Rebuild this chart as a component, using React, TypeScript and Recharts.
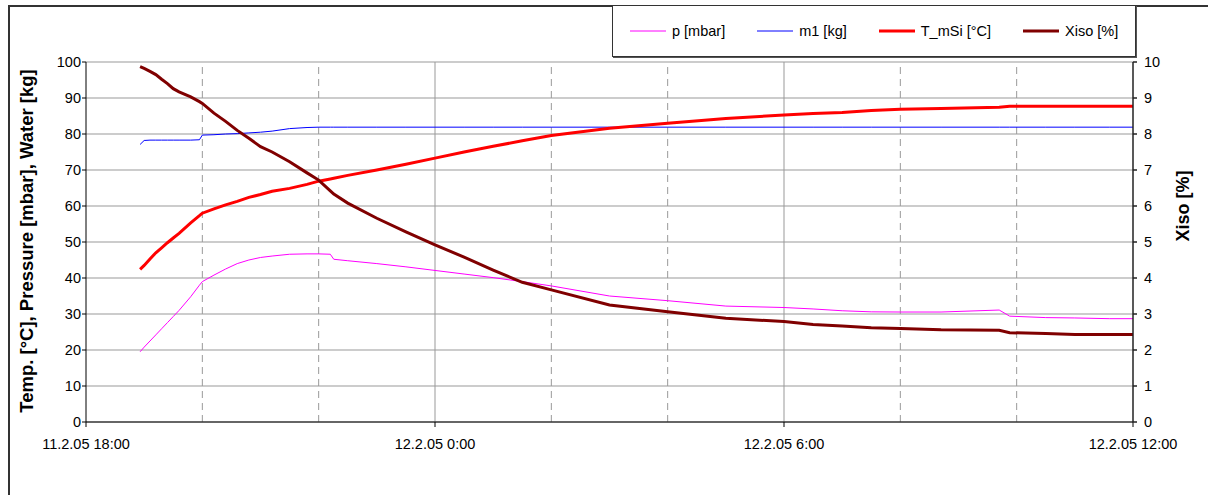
import React from 'react';
import { LineChart, Line, XAxis, YAxis, CartesianGrid, ReferenceLine, Legend } from 'recharts';

// time in hours after 11.2.05 18:00
const hours = [0.93, 1.0, 1.1, 1.2, 1.3, 1.4, 1.5, 1.6, 1.8, 1.95, 2.0, 2.2, 2.4, 2.6, 2.8, 3.0, 3.2, 3.5, 3.8, 4.0, 4.2, 4.26, 4.5, 5.0, 5.5, 6.0, 6.5, 7.0, 7.5, 8.0, 9.0, 10.0, 11.0, 12.0, 12.5, 13.0, 13.5, 14.0, 14.7, 15.7, 15.88, 16.5, 17.0, 17.6, 18.0];
const pressure = [19.5, 20.8, 22.5, 24.2, 25.9, 27.6, 29.3, 31.0, 34.8, 38.0, 39.0, 40.8, 42.5, 44.0, 45.0, 45.7, 46.1, 46.6, 46.7, 46.7, 46.6, 45.2, 44.8, 44.0, 43.1, 42.1, 41.1, 40.1, 39.0, 37.8, 35.0, 33.7, 32.2, 31.8, 31.4, 30.9, 30.6, 30.55, 30.55, 31.1, 29.4, 29.0, 28.9, 28.7, 28.7];
const mass = [77.1, 78.2, 78.3, 78.3, 78.3, 78.3, 78.3, 78.3, 78.3, 78.4, 79.7, 79.8, 80.0, 80.1, 80.3, 80.5, 80.8, 81.5, 81.8, 81.9, 81.9, 81.9, 81.9, 81.9, 81.9, 81.9, 81.9, 81.9, 81.9, 81.9, 81.9, 81.9, 81.9, 81.9, 81.9, 81.9, 81.9, 81.9, 81.9, 81.9, 81.9, 81.9, 81.9, 81.9, 81.9];
const tempSi = [42.4, 43.5, 45.3, 47.0, 48.4, 49.8, 51.1, 52.4, 55.3, 57.3, 58.0, 59.2, 60.3, 61.3, 62.4, 63.2, 64.1, 64.9, 66.0, 66.9, 67.5, 67.7, 68.5, 70.0, 71.6, 73.3, 75.0, 76.6, 78.1, 79.6, 81.6, 83.0, 84.3, 85.3, 85.7, 86.0, 86.5, 86.85, 87.1, 87.4, 87.7, 87.7, 87.7, 87.7, 87.7];
const xiso = [9.87, 9.82, 9.74, 9.65, 9.52, 9.40, 9.26, 9.17, 9.03, 8.90, 8.85, 8.58, 8.35, 8.10, 7.88, 7.65, 7.50, 7.23, 6.92, 6.72, 6.42, 6.33, 6.08, 5.66, 5.28, 4.92, 4.58, 4.22, 3.88, 3.67, 3.25, 3.06, 2.88, 2.79, 2.71, 2.67, 2.62, 2.60, 2.56, 2.55, 2.48, 2.46, 2.43, 2.43, 2.43];

const xTicks = [0, 6, 12, 18];
const xTickLabels = ['11.2.05 18:00', '12.2.05 0:00', '12.2.05 6:00', '12.2.05 12:00'];
const minorHours = [2, 4, 8, 10, 14, 16];
const majorHours = [6, 12];
const leftTicks = [0, 10, 20, 30, 40, 50, 60, 70, 80, 90, 100];
const rightTicks = [0, 1, 2, 3, 4, 5, 6, 7, 8, 9, 10];
const seriesOrder = ['p', 'm1', 'T', 'X'];

const data = hours.map((t, i) => ({ t, p: pressure[i], m1: mass[i], T: tempSi[i], X: xiso[i] }));

const FONT = '"Liberation Sans", Arial, sans-serif';
const widths: Record<string, number> = { p: 1, m1: 1, T: 3, X: 3 };

const LegendBox = (props: any) => {
  const payload = [...(props.payload || [])].sort(
    (a: any, b: any) => seriesOrder.indexOf(String(a.dataKey)) - seriesOrder.indexOf(String(b.dataKey))
  );
  return (
    <div
      style={{
        boxSizing: 'border-box',
        width: 524,
        height: 52,
        border: '1px solid #333',
        boxShadow: '1px 1px 0 #555',
        background: '#fff',
        display: 'flex',
        alignItems: 'center',
        paddingLeft: 17,
        fontFamily: FONT,
        fontSize: 14.5,
        color: '#000',
      }}
    >
      {payload.map((e: any, i: number) => (
        <div key={i} style={{ display: 'flex', alignItems: 'center', marginRight: 32 }}>
          <svg width={36} height={6} style={{ display: 'block' }}>
            <line x1={0} y1={3} x2={36} y2={3} stroke={e.color} strokeWidth={widths[e.dataKey] || 1} />
          </svg>
          <span style={{ marginLeft: 6, whiteSpace: 'nowrap' }}>{e.value}</span>
        </div>
      ))}
    </div>
  );
};

const LeftTitle = (props: any) => {
  const vb = props.viewBox || {};
  const cx = vb.x + 18;
  const cy = vb.y + vb.height / 2 - 1;
  return (
    <text x={cx} y={cy} transform={`rotate(-90, ${cx}, ${cy})`} textAnchor="middle" dominantBaseline="central"
      style={{ fontFamily: FONT, fontSize: 18.5, fontWeight: 'bold', fill: '#000' }}>
      {props.value}
    </text>
  );
};

const RightTitle = (props: any) => {
  const vb = props.viewBox || {};
  const cx = vb.x + 50;
  const cy = vb.y + vb.height * 0.4;
  return (
    <text x={cx} y={cy} transform={`rotate(-90, ${cx}, ${cy})`} textAnchor="middle" dominantBaseline="central"
      style={{ fontFamily: FONT, fontSize: 18, fontWeight: 'bold', fill: '#000' }}>
      {props.value}
    </text>
  );
};

export default function App() {
  return (
    <div style={{ position: 'absolute', left: 8, top: 5, width: 1200, height: 490, fontFamily: FONT }}>
      <div style={{ position: 'absolute', left: 0, top: 0, width: 1210, height: 500, borderTop: '2px solid #333', borderLeft: '2px solid #333', boxSizing: 'border-box' }} />
      <div style={{ position: 'absolute', left: 0, top: 0 }}>
        <LineChart width={1200} height={490} data={data} margin={{ top: 57, right: 0, bottom: 33, left: 0 }}>
          <CartesianGrid yAxisId="left" vertical={false} stroke="#999" strokeWidth={1} />
          {minorHours.map((h) => (
            <ReferenceLine key={'mi' + h} x={h} yAxisId="left" stroke="#999" strokeDasharray="7 5" strokeWidth={1} />
          ))}
          {majorHours.map((h) => (
            <ReferenceLine key={'ma' + h} x={h} yAxisId="left" stroke="#999" strokeWidth={1} />
          ))}
          <XAxis
            dataKey="t"
            type="number"
            domain={[0, 18]}
            ticks={xTicks}
            tickFormatter={(v: number) => xTickLabels[xTicks.indexOf(v)] ?? ''}
            height={40}
            tickSize={5}
            tickMargin={12}
            stroke="#000"
            tick={{ fill: '#000', fontSize: 14.5, fontFamily: FONT }}
            interval={0}
          />
          <YAxis
            yAxisId="left"
            domain={[0, 100]}
            ticks={leftTicks}
            width={78}
            tickSize={4}
            tickMargin={1}
            stroke="#000"
            tick={{ fill: '#000', fontSize: 14.5, fontFamily: FONT }}
            interval={0}
            label={<LeftTitle value="Temp. [°C], Pressure [mbar], Water [kg]" />}
          />
          <YAxis
            yAxisId="right"
            orientation="right"
            domain={[0, 10]}
            ticks={rightTicks}
            width={75}
            tickSize={4}
            tickMargin={7}
            stroke="#222"
            strokeWidth={1.5}
            tick={{ fill: '#000', fontSize: 14.5, fontFamily: FONT }}
            interval={0}
            label={<RightTitle value="Xiso [%]" />}
          />
          <Legend
            layout="horizontal"
            verticalAlign="middle"
            align="center"
            content={<LegendBox />}
            wrapperStyle={{ position: 'absolute', left: 604, top: 0, width: 524, height: 52 }}
          />
          <Line yAxisId="left" dataKey="p" name="p [mbar]" stroke="#FF00FF" strokeWidth={1} dot={false} isAnimationActive={false} />
          <Line yAxisId="left" dataKey="m1" name="m1 [kg]" stroke="#0000FF" strokeWidth={1} dot={false} isAnimationActive={false} />
          <Line yAxisId="left" dataKey="T" name="T_mSi [°C]" stroke="#FF0000" strokeWidth={3} dot={false} isAnimationActive={false} />
          <Line yAxisId="right" dataKey="X" name="Xiso [%]" stroke="#800000" strokeWidth={3} dot={false} isAnimationActive={false} />
        </LineChart>
      </div>
    </div>
  );
}
